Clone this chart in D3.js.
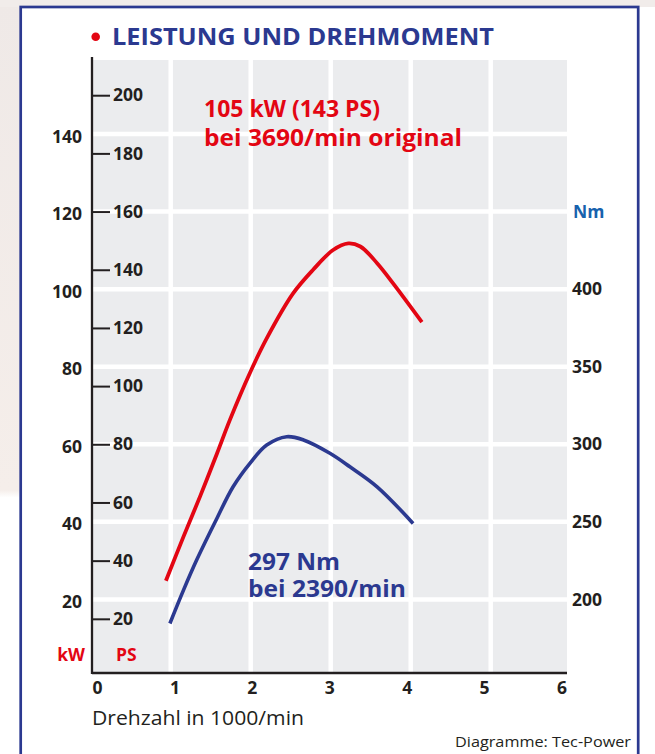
<!DOCTYPE html>
<html>
<head>
<meta charset="utf-8">
<script src="https://cdn.jsdelivr.net/npm/d3@7"></script>
<style>
  body { margin: 0; background: #fff; }
  svg { display: block; font-family: "Open Sans", sans-serif; }
</style>
</head>
<body>
<script>
// values
const rpmTicks = [0, 1, 2, 3, 4, 5, 6];
const kwTicks = [20, 40, 60, 80, 100, 120, 140];
const psTicks = [20, 40, 60, 80, 100, 120, 140, 160, 180, 200];
const nmTicks = [200, 250, 300, 350, 400];

// Leistung (kW) over Drehzahl (1000/min)
const powerRpm = [0.94, 1.16, 1.37, 1.58, 1.74, 1.99, 2.20, 2.53, 2.78, 3.03, 3.22, 3.37, 3.58, 3.78, 4.14];
const powerKw  = [24.8, 36.2, 46.7, 57.7, 66.3, 78.4, 87.3, 98.9, 105.0, 110.1, 111.8, 111.0, 106.7, 101.5, 91.5];

// Drehmoment (Nm)
const torqueRpm = [0.99, 1.16, 1.33, 1.58, 1.78, 1.99, 2.20, 2.45, 2.66, 2.99, 3.24, 3.58, 4.03];
const torqueNm  = [184.5, 206.0, 226.0, 252.5, 272.6, 287.7, 299.5, 304.9, 302.8, 294.2, 285.5, 272.6, 249.0];

const navy = "#2b3990", red = "#e30613", ink = "#231f20";

const W = 655, H = 754;
const plot = {left: 92, right: 567, top: 60, bottom: 673};

const svg = d3.select("body").append("svg")
    .attr("width", W)
    .attr("height", H);

// faint photo background around the frame
const defs = svg.append("defs");
const grad = defs.append("linearGradient").attr("id", "bg").attr("x1", 0).attr("y1", 0).attr("x2", 0).attr("y2", 1);
grad.append("stop").attr("offset", "0%").attr("stop-color", "#efe9e7");
grad.append("stop").attr("offset", "65%").attr("stop-color", "#f5eeea");
grad.append("stop").attr("offset", "66%").attr("stop-color", "#ffffff");
svg.append("rect").attr("x", 0).attr("y", 0).attr("width", 20).attr("height", H).attr("fill", "url(#bg)");
svg.append("rect").attr("x", 0).attr("y", 0).attr("width", W).attr("height", 7).attr("fill", "#f1ecea");

// frame (open at the bottom)
svg.append("rect")
    .attr("x", 20.7).attr("y", 7)
    .attr("width", 617.5).attr("height", H + 20)
    .attr("fill", "#fff")
    .attr("stroke", navy)
    .attr("stroke-width", 2.7);

// title
svg.append("circle").attr("cx", 95.7).attr("cy", 36.7).attr("r", 4.3).attr("fill", red);
svg.append("text")
    .attr("x", 112).attr("y", 45)
    .attr("textLength", 382).attr("lengthAdjust", "spacingAndGlyphs")
    .attr("font-size", 23).attr("font-weight", 700).attr("fill", navy)
    .text("LEISTUNG UND DREHMOMENT");

// grid / curves scale, and the (slightly tighter) scale the printed rpm labels sit on
const x = d3.scaleLinear().domain([0, 6]).range([90.7, 570.7]);
const xLabel = d3.scaleLinear().domain([0, 6]).range([97, 561.5]);
const yKw = d3.scaleLinear().domain([0, 140]).range([677, 134]);
const yPs = d3.scaleLinear().domain([0, 140 * 4 / 3]).range([677, 134]);
const yNm = d3.scaleLinear().domain([150, 500]).range([677, 134]);

// grey plot field with white grid
svg.append("rect")
    .attr("x", plot.left).attr("y", plot.top)
    .attr("width", plot.right - plot.left).attr("height", plot.bottom - plot.top)
    .attr("fill", "#ebecee");

const grid = svg.append("g").attr("class", "grid");
grid.selectAll("line.v").data(rpmTicks.filter(d => d > 0 && d < 6)).join("line")
    .attr("class", "v")
    .attr("x1", d => x(d)).attr("x2", d => x(d))
    .attr("y1", plot.top).attr("y2", plot.bottom)
    .attr("stroke", "#ffffff").attr("stroke-width", 4.5);
grid.selectAll("line.h").data(kwTicks).join("line")
    .attr("class", "h")
    .attr("x1", plot.left).attr("x2", plot.right)
    .attr("y1", d => yKw(d)).attr("y2", d => yKw(d))
    .attr("stroke", "#ffffff").attr("stroke-width", 4.5);

// axis lines
svg.append("line").attr("x1", plot.left).attr("x2", plot.left).attr("y1", 57).attr("y2", plot.bottom + 1)
    .attr("stroke", ink).attr("stroke-width", 2.3);
svg.append("line").attr("x1", plot.left).attr("x2", plot.right).attr("y1", plot.bottom).attr("y2", plot.bottom)
    .attr("stroke", ink).attr("stroke-width", 2.7);

function styleAxis(g) {
    g.select(".domain").remove();
    g.selectAll("text")
        .attr("font-family", "Open Sans, sans-serif")
        .attr("font-size", 17.5).attr("font-weight", 700).attr("fill", ink);
}

// PS axis, ticks to the right of the left axis line
svg.append("g")
    .attr("transform", `translate(${plot.left},0)`)
    .call(d3.axisRight(yPs).tickValues(psTicks).tickSize(18).tickPadding(3))
    .call(styleAxis)
    .call(g => g.selectAll("line").attr("stroke", ink).attr("stroke-width", 2));

// kW labels left of the axis
svg.append("g")
    .attr("transform", `translate(82,2.5)`)
    .call(d3.axisLeft(yKw).tickValues(kwTicks).tickSize(0).tickPadding(0))
    .call(styleAxis);

// Nm labels on the right
svg.append("g")
    .attr("transform", `translate(572,0)`)
    .call(d3.axisRight(yNm).tickValues(nmTicks).tickSize(0).tickPadding(0))
    .call(styleAxis);

// rpm labels
svg.append("g")
    .attr("transform", `translate(0,${plot.bottom})`)
    .call(d3.axisBottom(xLabel).tickValues(rpmTicks).tickFormat(d3.format("d")).tickSize(0).tickPadding(9))
    .call(styleAxis);

// unit labels
svg.append("text").attr("x", 85).attr("y", 661).attr("text-anchor", "end")
    .attr("font-size", 17.5).attr("font-weight", 700).attr("fill", red).text("kW");
svg.append("text").attr("x", 116).attr("y", 661)
    .attr("font-size", 17.5).attr("font-weight", 700).attr("fill", red).text("PS");
svg.append("text").attr("x", 573).attr("y", yNm(450) + 6.5)
    .attr("font-size", 17.5).attr("font-weight", 700).attr("fill", "#1762ad").text("Nm");

svg.append("text").attr("x", 92).attr("y", 725)
    .attr("font-size", 19.5).attr("textLength", 212).attr("lengthAdjust", "spacingAndGlyphs")
    .attr("fill", ink).text("Drehzahl in 1000/min");
svg.append("text").attr("x", 455).attr("y", 747)
    .attr("font-size", 15).attr("textLength", 176).attr("lengthAdjust", "spacingAndGlyphs")
    .attr("fill", ink).text("Diagramme: Tec-Power");

// curves
const powerLine = d3.line().x(d => x(d[0])).y(d => yKw(d[1])).curve(d3.curveCatmullRom.alpha(0.5));
const torqueLine = d3.line().x(d => x(d[0])).y(d => yNm(d[1])).curve(d3.curveCatmullRom.alpha(0.5));

svg.append("path")
    .datum(d3.zip(powerRpm, powerKw))
    .attr("d", powerLine)
    .attr("fill", "none").attr("stroke", red).attr("stroke-width", 3.8);

svg.append("path")
    .datum(d3.zip(torqueRpm, torqueNm))
    .attr("d", torqueLine)
    .attr("fill", "none").attr("stroke", navy).attr("stroke-width", 3.6);

// annotations
function note(lines, color, size, x0) {
    lines.forEach(l => {
        svg.append("text")
            .attr("x", x0).attr("y", l.y)
            .attr("font-size", size).attr("font-weight", 700).attr("fill", color)
            .attr("textLength", l.w).attr("lengthAdjust", "spacingAndGlyphs")
            .text(l.t);
    });
}
note([{t: "105 kW (143 PS)", y: 117, w: 176}, {t: "bei 3690/min original", y: 146, w: 258}], red, 23, 204);
note([{t: "297 Nm", y: 570, w: 92}, {t: "bei 2390/min", y: 597, w: 158}], navy, 22.5, 248);
</script>
</body>
</html>
